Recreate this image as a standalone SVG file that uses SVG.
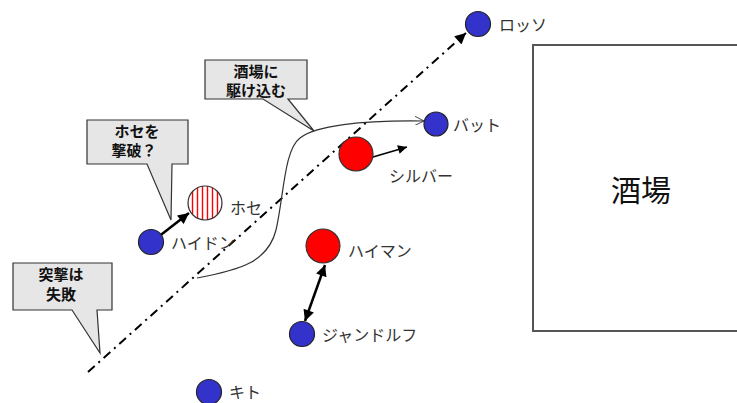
<svg xmlns="http://www.w3.org/2000/svg" width="737" height="403" viewBox="0 0 737 403">
<style>
.lbl{font-family:"Noto Sans CJK JP","Noto Sans",sans-serif;font-size:16px;fill:#333}
.cl{font-family:"Noto Sans CJK JP","Noto Sans",sans-serif;font-size:15px;font-weight:bold;fill:#111;text-anchor:middle}
.callout{fill:#e6e6e6;stroke:#333;stroke-width:1.2}
.blue{fill:#3333cc;stroke:#222;stroke-width:1.2}
.red{fill:#ff0000;stroke:#333;stroke-width:1.2}
.arrow{stroke:#000;fill:none}
</style>
<defs>
<marker id="af" viewBox="0 0 10 10" refX="10" refY="5" markerWidth="13" markerHeight="11" markerUnits="userSpaceOnUse" orient="auto-start-reverse">
<path d="M0,0 L10,5 L0,10 Z" fill="#000"/>
</marker>
<marker id="afs" viewBox="0 0 10 10" refX="10" refY="5" markerWidth="11" markerHeight="9" markerUnits="userSpaceOnUse" orient="auto">
<path d="M0,0 L10,5 L0,10 Z" fill="#000"/>
</marker>
<marker id="ao" viewBox="0 0 10 10" refX="10" refY="5" markerWidth="11" markerHeight="9" markerUnits="userSpaceOnUse" orient="auto">
<path d="M0,0 L10,5 L0,10" fill="none" stroke="#333" stroke-width="1"/>
</marker>
<pattern id="stripe" patternUnits="userSpaceOnUse" width="5" height="10">
<rect width="5" height="10" fill="#fff"/>
<line x1="2.5" y1="0" x2="2.5" y2="10" stroke="#ff0000" stroke-width="1.4"/>
</pattern>
</defs>
<rect width="737" height="403" fill="#fff"/>

<g id="tavern">
<path d="M740,45 H533 V331 H740" fill="none" stroke="#555" stroke-width="2"/>
<text x="641" y="201" style="font-family:'Noto Sans CJK JP','Noto Sans',sans-serif;font-size:30px;fill:#111" text-anchor="middle">酒場</text>
</g>

<g id="connectors">
<line x1="88" y1="372" x2="466" y2="33" stroke="#000" stroke-width="2" stroke-dasharray="9 5 2 5" marker-end="url(#af)"/>
<path d="M197,278 C240,270 268,262 276,230 C284,195 284,150 300,138 C315,126 360,120 424,121" fill="none" stroke="#333" stroke-width="1.2" marker-end="url(#ao)"/>
<line x1="153" y1="241" x2="189" y2="213" class="arrow" stroke-width="2.5" marker-end="url(#af)"/>
<line x1="373" y1="157" x2="407" y2="147" class="arrow" stroke-width="1.5" marker-end="url(#afs)"/>
<line x1="325" y1="265" x2="305" y2="321" class="arrow" stroke-width="2.5" marker-start="url(#af)" marker-end="url(#af)"/>
</g>

<g id="callout-jose">
<path class="callout" d="M87,120 H188 V164 H172 L171,220 L147,164 H87 Z"/>
<text class="cl" x="137" y="137">ホセを</text>
<text class="cl" x="134" y="156">撃破？</text>
</g>
<g id="callout-tavern">
<path class="callout" d="M205,60 H307 V99 H288 L314,131 L263,99 H205 Z"/>
<text class="cl" x="256" y="77">酒場に</text>
<text class="cl" x="256" y="96">駆け込む</text>
</g>
<g id="callout-fail">
<path class="callout" d="M13,263 H112 V310 H97 L100,353 L72,310 H13 Z"/>
<text class="cl" x="61" y="280">突撃は</text>
<text class="cl" x="61" y="300">失敗</text>
</g>

<g id="rosso"><circle class="blue" cx="478" cy="24" r="12.5"/><text class="lbl" x="499" y="31">ロッソ</text></g>
<g id="bat"><circle class="blue" cx="436" cy="124" r="12"/><text class="lbl" x="453" y="131">バット</text></g>
<g id="silver"><circle class="red" cx="356" cy="154" r="17"/><text class="lbl" x="389" y="182">シルバー</text></g>
<g id="jose"><circle cx="205" cy="203" r="17" fill="url(#stripe)" stroke="#333" stroke-width="1.2"/><text class="lbl" x="230" y="214">ホセ</text></g>
<g id="haydn"><circle class="blue" cx="151" cy="242" r="12.5"/><text class="lbl" x="171" y="249">ハイドン</text></g>
<g id="heiman"><circle class="red" cx="323" cy="246" r="17"/><text class="lbl" x="348" y="257">ハイマン</text></g>
<g id="jandorf"><circle class="blue" cx="302" cy="334" r="12.5"/><text class="lbl" x="322" y="341">ジャンドルフ</text></g>
<g id="kito"><circle class="blue" cx="209" cy="392" r="12.5"/><text class="lbl" x="229" y="398">キト</text></g>
</svg>
